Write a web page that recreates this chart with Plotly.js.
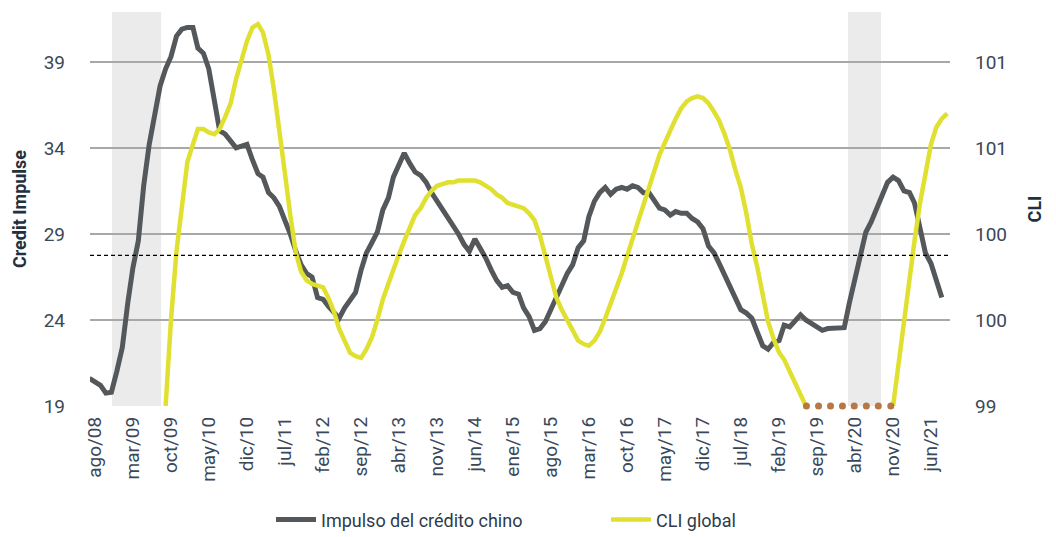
<!DOCTYPE html>
<html>
<head>
<meta charset="utf-8">
<script src="https://cdn.plot.ly/plotly-3.0.1.min.js"></script>
<style>
  html, body { margin: 0; padding: 0; background: #ffffff; }
  #chart { width: 1056px; height: 537px; }
</style>
</head>
<body>
<div id="chart"></div>
<script>
// Monthly categories (jul/08 .. sep/21)
var months = [
  '2008-07','2008-08','2008-09','2008-10','2008-11','2008-12',
  '2009-01','2009-02','2009-03','2009-04','2009-05','2009-06','2009-07','2009-08','2009-09','2009-10','2009-11','2009-12',
  '2010-01','2010-02','2010-03','2010-04','2010-05','2010-06','2010-07','2010-08','2010-09','2010-10','2010-11','2010-12',
  '2011-01','2011-02','2011-03','2011-04','2011-05','2011-06','2011-07','2011-08','2011-09','2011-10','2011-11','2011-12',
  '2012-01','2012-02','2012-03','2012-04','2012-05','2012-06','2012-07','2012-08','2012-09','2012-10','2012-11','2012-12',
  '2013-01','2013-02','2013-03','2013-04','2013-05','2013-06','2013-07','2013-08','2013-09','2013-10','2013-11','2013-12',
  '2014-01','2014-02','2014-03','2014-04','2014-05','2014-06','2014-07','2014-08','2014-09','2014-10','2014-11','2014-12',
  '2015-01','2015-02','2015-03','2015-04','2015-05','2015-06','2015-07','2015-08','2015-09','2015-10','2015-11','2015-12',
  '2016-01','2016-02','2016-03','2016-04','2016-05','2016-06','2016-07','2016-08','2016-09','2016-10','2016-11','2016-12',
  '2017-01','2017-02','2017-03','2017-04','2017-05','2017-06','2017-07','2017-08','2017-09','2017-10','2017-11','2017-12',
  '2018-01','2018-02','2018-03','2018-04','2018-05','2018-06','2018-07','2018-08','2018-09','2018-10','2018-11','2018-12',
  '2019-01','2019-02','2019-03','2019-04','2019-05','2019-06','2019-07','2019-08','2019-09','2019-10','2019-11','2019-12',
  '2020-01','2020-02','2020-03','2020-04','2020-05','2020-06','2020-07','2020-08','2020-09','2020-10','2020-11','2020-12',
  '2021-01','2021-02','2021-03','2021-04','2021-05','2021-06','2021-07','2021-08','2021-09'
];

// Impulso del crédito chino (left axis)
var creditImpulse = [
  20.6,20.4,20.2,19.75,19.8,21.0,
  22.4,25.0,27.0,28.6,31.8,34.2,35.8,37.6,38.6,39.3,40.5,40.9,
  41.0,41.0,39.8,39.5,38.6,36.6,35.0,34.8,34.4,34.0,34.1,34.2,
  33.3,32.5,32.3,31.4,31.1,30.6,29.8,29.0,28.0,27.2,26.7,26.5,
  25.3,25.2,24.8,24.4,24.1,24.7,25.2,25.6,26.9,27.9,28.5,29.1,
  30.4,31.1,32.3,33.1,33.7,33.1,32.6,32.4,32.0,31.4,30.9,30.4,
  29.9,29.5,29.0,28.4,28.0,28.7,28.2,27.6,26.9,26.3,25.9,26.0,
  25.6,25.5,24.7,24.2,23.4,23.5,23.9,24.6,25.4,26.0,26.7,27.2,
  28.2,28.6,30.0,30.9,31.4,31.7,31.3,31.6,31.7,31.6,31.8,31.7,
  31.4,31.4,31.0,30.5,30.4,30.1,30.3,30.2,30.2,29.9,29.7,29.3,
  28.3,27.9,27.3,26.6,26.0,25.3,24.6,24.4,24.1,23.3,22.5,22.3,
  22.7,22.8,23.7,23.6,23.9,24.3,24.0,23.8,23.6,23.4,23.5,23.5,
  23.55,23.55,25.0,26.3,27.7,29.1,29.7,30.5,31.4,32.0,32.3,32.1,
  31.5,31.4,30.8,29.3,27.9,27.3,26.2,25.3,null
];

// CLI global (right axis)
var cliGlobal = [
  null,null,null,null,null,null,
  null,null,null,null,null,null,null,null,99.0,99.5,99.9,100.15,
  100.42,100.52,100.61,100.61,100.59,100.58,100.61,100.68,100.76,100.90,101.02,101.12,
  101.20,101.22,101.17,101.04,100.84,100.61,100.36,100.11,99.89,99.78,99.73,99.71,
  99.70,99.69,99.63,99.55,99.45,99.37,99.31,99.29,99.28,99.33,99.40,99.50,
  99.62,99.71,99.80,99.88,99.96,100.04,100.11,100.15,100.21,100.25,100.28,100.29,
  100.30,100.30,100.31,100.31,100.31,100.31,100.30,100.28,100.26,100.23,100.21,100.18,
  100.17,100.16,100.15,100.12,100.08,99.99,99.87,99.74,99.63,99.56,99.50,99.43,
  99.38,99.36,99.35,99.38,99.43,99.51,99.59,99.68,99.77,99.87,99.97,100.08,
  100.17,100.27,100.36,100.46,100.53,100.61,100.67,100.73,100.77,100.79,100.80,100.79,
  100.76,100.71,100.66,100.58,100.49,100.37,100.27,100.12,99.94,99.81,99.65,99.49,
  99.39,99.31,99.27,99.20,99.13,99.06,99.0,null,null,null,null,null,
  null,null,null,null,null,null,null,null,null,null,99.0,99.25,
  99.48,99.72,99.96,100.18,100.36,100.52,100.62,100.67,100.70
];

// Dotted floor markers on the CLI axis
var floorDates = ['2019-07-04','2019-09-10','2019-11-16','2020-01-22','2020-03-28','2020-06-04','2020-08-10','2020-10-19'];
var floorValues = [99,99,99,99,99,99,99,99];

// Shaded periods
var shadeStart = ['2008-11-04','2020-02-22'];
var shadeEnd   = ['2009-08-07','2020-08-25'];

// Reference level (dashed line, left axis)
var referenceLevel = 27.76;

// Axis ticks
var xTickVals = ['2008-08-01','2009-03-01','2009-10-01','2010-05-01','2010-12-01','2011-07-01','2012-02-01','2012-09-01',
  '2013-04-01','2013-11-01','2014-06-01','2015-01-01','2015-08-01','2016-03-01','2016-10-01','2017-05-01',
  '2017-12-01','2018-07-01','2019-02-01','2019-09-01','2020-04-01','2020-11-01','2021-06-01'];
var xTickText = ['ago/08','mar/09','oct/09','may/10','dic/10','jul/11','feb/12','sep/12','abr/13','nov/13','jun/14',
  'ene/15','ago/15','mar/16','oct/16','may/17','dic/17','jul/18','feb/19','sep/19','abr/20','nov/20','jun/21'];
var leftTickVals = [19,24,29,34,39];
var rightTickVals = [99,99.5,100,100.5,101];
var rightTickText = ['99','100','100','101','101'];

var tickFont = {family: 'Roboto, sans-serif', size: 19, color: '#3a4858'};
var titleFont = {family: 'Roboto, sans-serif', size: 18, color: '#22313f', weight: 700};

var traces = [
  {
    x: months, y: creditImpulse, type: 'scatter', mode: 'lines',
    name: 'Impulso del crédito chino',
    line: {color: '#54585b', width: 5},
    yaxis: 'y', connectgaps: false
  },
  {
    x: months, y: cliGlobal, type: 'scatter', mode: 'lines',
    name: 'CLI global',
    line: {color: '#e0e030', width: 4.5},
    yaxis: 'y2', connectgaps: false
  },
  {
    x: floorDates, y: floorValues, type: 'scatter', mode: 'markers',
    showlegend: false, cliponaxis: false,
    marker: {color: '#b87746', size: 7},
    yaxis: 'y2', hoverinfo: 'skip'
  }
];

var shapes = [];
for (var i = 0; i < shadeStart.length; i++) {
  shapes.push({
    type: 'rect', xref: 'x', yref: 'paper', x0: shadeStart[i], x1: shadeEnd[i], y0: 0, y1: 1,
    fillcolor: '#ebebeb', line: {width: 0}, layer: 'below'
  });
}
shapes.push({
  type: 'line', xref: 'paper', yref: 'y', x0: 0, x1: 1, y0: referenceLevel, y1: referenceLevel,
  line: {color: '#000000', width: 1.3, dash: '4px,3px'}, layer: 'above'
});

var layout = {
  width: 1056, height: 537,
  margin: {l: 90, r: 106, t: 12, b: 131},
  paper_bgcolor: '#ffffff', plot_bgcolor: 'rgba(0,0,0,0)',
  font: {family: 'Roboto, sans-serif', color: '#3a4858'},
  showlegend: true,
  legend: {
    orientation: 'h', x: 0.6, xanchor: 'center', yref: 'container', y: 0.032, yanchor: 'middle',
    font: {family: 'Roboto, sans-serif', size: 18, color: '#2e3b4a'},
    itemwidth: 40, entrywidth: 280, traceorder: 'normal'
  },
  xaxis: {
    type: 'date', range: ['2008-07-04', '2021-09-16'],
    tickmode: 'array', tickvals: xTickVals, ticktext: xTickText, tickangle: -90,
    tickfont: tickFont, ticks: '', showgrid: false, zeroline: false, showline: false,
    ticklabelstandoff: 6, fixedrange: true
  },
  yaxis: {
    range: [19, 41.9], tickmode: 'array', tickvals: leftTickVals,
    tickfont: tickFont, ticks: '', showgrid: true, gridcolor: '#a8a8a8', gridwidth: 2,
    zeroline: false, showline: false, ticklabelstandoff: 24,
    title: {text: 'Credit Impulse', font: titleFont, standoff: 12}
  },
  yaxis2: {
    overlaying: 'y', side: 'right', range: [99, 101.29],
    tickmode: 'array', tickvals: rightTickVals, ticktext: rightTickText,
    tickfont: tickFont, ticks: '', showgrid: false, zeroline: false, showline: false,
    ticklabelstandoff: 24,
    title: {text: 'CLI', font: titleFont, standoff: 22}
  },
  shapes: shapes
};

Plotly.newPlot('chart', traces, layout, {displayModeBar: false, staticPlot: true});
</script>
</body>
</html>
